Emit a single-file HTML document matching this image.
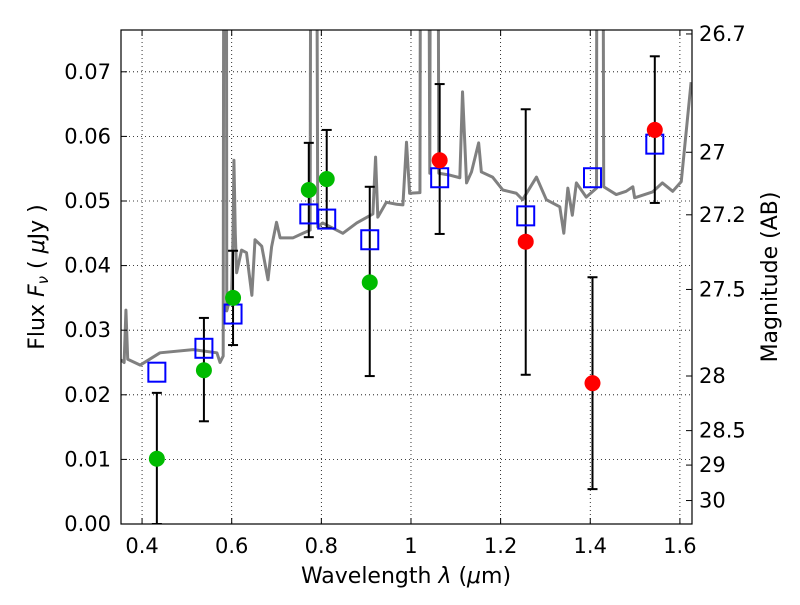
<!DOCTYPE html>
<html><head><meta charset="utf-8">
<style>
html,body{margin:0;padding:0;background:#fff;}
svg text{font-family:"DejaVu Sans","Liberation Sans",sans-serif;fill:#000;}
</style></head>
<body>
<svg id="chart" width="800" height="600" xmlns="http://www.w3.org/2000/svg">
<defs><clipPath id="clip"><rect x="121" y="30" width="571" height="494"/></clipPath></defs>
<g id="grid"></g>
<g id="spec" clip-path="url(#clip)"></g>
<g id="marks" clip-path="url(#clip)"></g>
<rect x="121" y="30" width="571" height="494" fill="none" stroke="#000" stroke-width="1.2"/>
<g id="axes"></g>
<text x="406" y="583" font-size="22" text-anchor="middle">Wavelength  <tspan font-style="italic">λ</tspan> (<tspan font-style="italic">μ</tspan>m)</text>
<text transform="translate(44,277) rotate(-90)" font-size="22" text-anchor="middle">Flux  <tspan font-style="italic">F<tspan font-size="15" dy="4">ν</tspan></tspan><tspan dy="-4">  ( </tspan><tspan font-style="italic">μ</tspan>Jy )</text>
<text transform="translate(777,277) rotate(-90)" font-size="22" text-anchor="middle">Magnitude (AB)</text>
</svg>
<script>
const spectrum=[[0.353,0.0254],[0.36,0.025],[0.364,0.0331],[0.368,0.0255],[0.396,0.0246],[0.44,0.0265],[0.514,0.027],[0.567,0.0265],[0.574,0.025],[0.581,0.026],[0.584,0.2],[0.587,0.2],[0.589,0.033],[0.600,0.036],[0.603,0.045],[0.605,0.0563],[0.608,0.045],[0.611,0.0389],[0.622,0.0424],[0.633,0.042],[0.645,0.0354],[0.652,0.044],[0.667,0.043],[0.681,0.0378],[0.689,0.0429],[0.700,0.0467],[0.708,0.0443],[0.737,0.0443],[0.759,0.045],[0.775,0.0455],[0.779,0.2],[0.785,0.2],[0.792,0.046],[0.803,0.0466],[0.848,0.045],[0.879,0.0466],[0.902,0.0475],[0.915,0.048],[0.921,0.0568],[0.926,0.0475],[0.945,0.0498],[0.968,0.0495],[0.982,0.0494],[0.990,0.0591],[0.997,0.0512],[1.020,0.0513],[1.024,0.2],[1.034,0.2],[1.042,0.0543],[1.046,0.2],[1.057,0.2],[1.062,0.0543],[1.087,0.054],[1.109,0.0536],[1.115,0.0669],[1.124,0.0528],[1.135,0.0545],[1.151,0.059],[1.157,0.0545],[1.182,0.0537],[1.205,0.0517],[1.235,0.0512],[1.249,0.0502],[1.280,0.0537],[1.302,0.0502],[1.332,0.0491],[1.341,0.045],[1.350,0.052],[1.360,0.0478],[1.369,0.0528],[1.391,0.0506],[1.414,0.052],[1.416,0.2],[1.425,0.2],[1.430,0.0522],[1.458,0.051],[1.480,0.0515],[1.495,0.0522],[1.499,0.0505],[1.539,0.0514],[1.561,0.0528],[1.584,0.0515],[1.603,0.053],[1.625,0.0684]];
const greenWl=[0.433,0.538,0.603,0.772,0.812,0.908];
const greenFlux=[0.0101,0.0238,0.035,0.0517,0.0534,0.0374];
const greenHi=[0.0203,0.0319,0.0423,0.059,0.061,0.0522];
const greenLo=[0.0,0.0159,0.0277,0.0444,0.0458,0.0229];
const redWl=[1.064,1.256,1.405,1.544];
const redFlux=[0.0563,0.0437,0.0218,0.061];
const redHi=[0.0681,0.0642,0.0382,0.0724];
const redLo=[0.0449,0.0231,0.0054,0.0497];
const modelWl=[0.433,0.538,0.603,0.772,0.812,0.908,1.064,1.256,1.405,1.544];
const modelFlux=[0.0235,0.0272,0.0325,0.048,0.0472,0.044,0.0536,0.0477,0.0536,0.0588];
const xTicks=[0.4,0.6,0.8,1.0,1.2,1.4,1.6];
const xTickLabels=["0.4","0.6","0.8","1","1.2","1.4","1.6"];
const yTicks=[0,0.01,0.02,0.03,0.04,0.05,0.06,0.07];
const yTickLabels=["0.00","0.01","0.02","0.03","0.04","0.05","0.06","0.07"];
const magTicks=[26.7,27,27.2,27.5,28,28.5,29,30];
const magTickLabels=["26.7","27","27.2","27.5","28","28.5","29","30"];

const X0=121,X1=692,Y0=524,Y1=30,XMIN=0.353,XMAX=1.627,YMIN=0,YMAX=0.07647;
const sx=v=>X0+(v-XMIN)/(XMAX-XMIN)*(X1-X0);
const sy=v=>Y0-(v-YMIN)/(YMAX-YMIN)*(Y0-Y1);
const magToFlux=m=>Math.pow(10,(23.9-m)/2.5);
const NS="http://www.w3.org/2000/svg";
function mk(tag,attrs,parent){const e=document.createElementNS(NS,tag);for(const k in attrs)e.setAttribute(k,attrs[k]);parent.appendChild(e);return e;}
const grid=document.getElementById('grid'),axes=document.getElementById('axes'),spec=document.getElementById('spec'),marks=document.getElementById('marks');

xTicks.forEach((t,i)=>{const x=sx(t);
 let g=mk('line',{x1:x,x2:x,y1:Y1,y2:Y0,stroke:'#000','stroke-width':0.8,'stroke-dasharray':'1,3'},grid);
 
 
 mk('line',{x1:x,x2:x,y1:Y0,y2:Y0-6,stroke:'#000'},axes);
 mk('line',{x1:x,x2:x,y1:Y1,y2:Y1+6,stroke:'#000'},axes);
 let l=mk('text',{x:x,y:553,'font-size':21,'text-anchor':'middle'},axes);l.textContent=xTickLabels[i];
 
 
});
yTicks.forEach((t,i)=>{const y=sy(t);
 let g=mk('line',{x1:X0,x2:X1,y1:y,y2:y,stroke:'#000','stroke-width':0.8,'stroke-dasharray':'1,3'},grid);
 
 
 mk('line',{x1:X0,x2:X0+6,y1:y,y2:y,stroke:'#000'},axes);
 let l=mk('text',{x:111,y:y+7,'font-size':21,'text-anchor':'end'},axes);l.textContent=yTickLabels[i];
 
 
});
magTicks.forEach((m,i)=>{const y=sy(magToFlux(m));
 mk('line',{x1:X1,x2:X1-6,y1:y,y2:y,stroke:'#000'},axes);
 let l=mk('text',{x:699,y:y+7,'font-size':21,'text-anchor':'start'},axes);l.textContent=magTickLabels[i];
 
 
});

const pl=mk('polyline',{points:spectrum.map(p=>sx(p[0])+','+sy(p[1])).join(' '),fill:'none',stroke:'#808080','stroke-width':3,'stroke-linejoin':'round'},spec);



function errs(wl,hi,lo,name){wl.forEach((w,i)=>{const x=sx(w);
 const g=mk('g',{},marks);
 
 
 mk('line',{x1:x,x2:x,y1:sy(hi[i]),y2:sy(lo[i]),stroke:'#000','stroke-width':2},g);
 mk('line',{x1:x-5,x2:x+5,y1:sy(hi[i]),y2:sy(hi[i]),stroke:'#000','stroke-width':2},g);
 mk('line',{x1:x-5,x2:x+5,y1:sy(lo[i]),y2:sy(lo[i]),stroke:'#000','stroke-width':2},g);
});}
errs(greenWl,greenHi,greenLo,'green-error-bar');
errs(redWl,redHi,redLo,'red-error-bar');
modelWl.forEach((w,i)=>{
 const r=mk('rect',{x:sx(w)-8.5,y:sy(modelFlux[i])-9.5,width:17,height:19,fill:'none',stroke:'#0000ff','stroke-width':2},marks);
 
 
});
greenWl.forEach((w,i)=>{
 const c=mk('circle',{cx:sx(w),cy:sy(greenFlux[i]),r:8,fill:'#00bb00'},marks);
 
 
});
redWl.forEach((w,i)=>{
 const c=mk('circle',{cx:sx(w),cy:sy(redFlux[i]),r:8,fill:'#ff0000'},marks);
 
 
});
</script>
</body></html>
